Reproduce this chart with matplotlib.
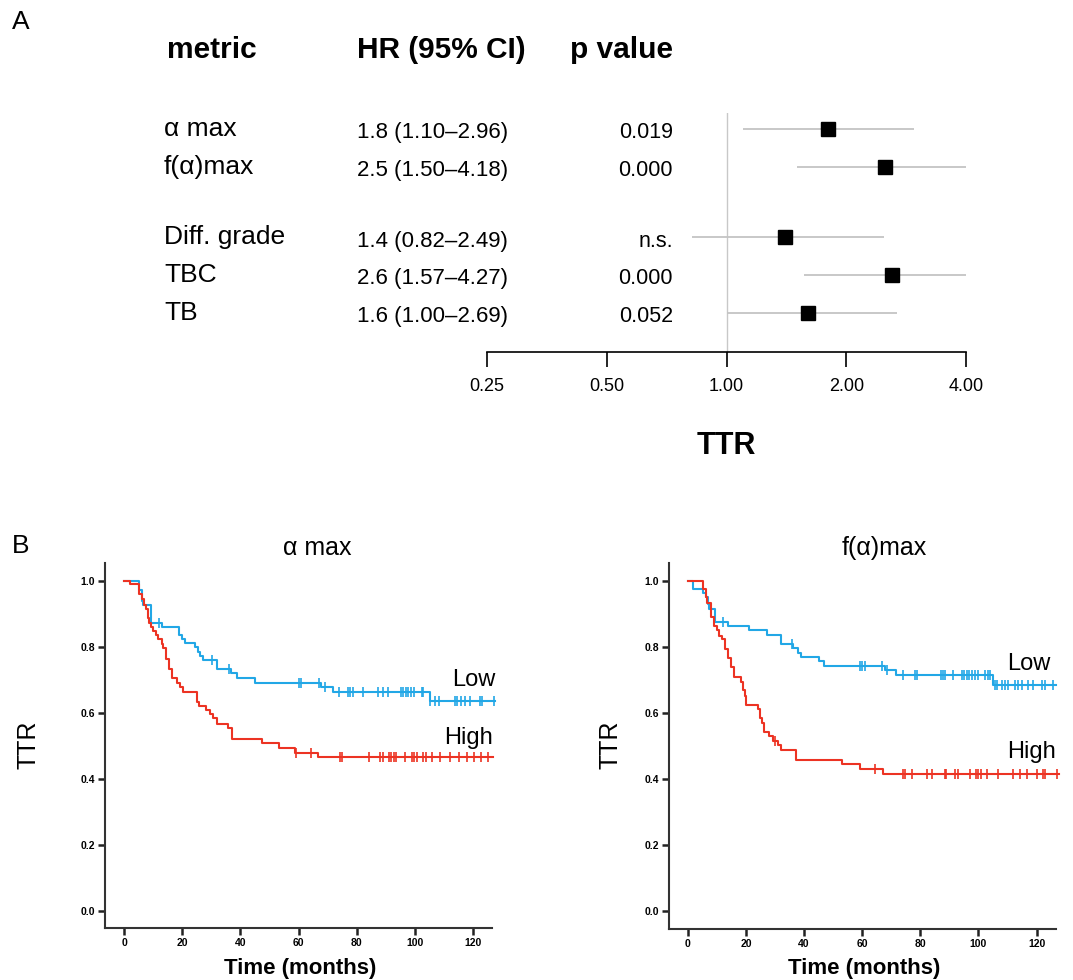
import numpy as np
import matplotlib
matplotlib.use("Agg")
import matplotlib.pyplot as plt
from matplotlib.transforms import blended_transform_factory

plt.rcParams['font.family'] = ['Liberation Sans', 'DejaVu Sans']

# ---- panel A data (forest plot) ----
metrics = ['α max', 'f(α)max', 'Diff. grade', 'TBC', 'TB']
hr = [1.8, 2.5, 1.4, 2.6, 1.6]
ci_lo = [1.10, 1.50, 0.82, 1.57, 1.00]
ci_hi = [2.96, 4.18, 2.49, 4.27, 2.69]
p_vals = ['0.019', '0.000', 'n.s.', '0.000', '0.052']
hr_ticks = [0.25, 0.5, 1.0, 2.0, 4.0]

# ---- panel B data (Kaplan-Meier, TTR) ----
# alpha max, low group
a_low_t = [0, 5.2, 6.0, 6.6, 9.1, 12.9, 19.0, 19.8, 20.9, 24.4, 25.3, 26.1, 27.0,
           31.8, 36.9, 38.7, 45.0, 67.8, 72.0, 105.1]
a_low_s = [1.0, 0.973, 0.94, 0.927, 0.874, 0.861, 0.836, 0.824, 0.811, 0.799, 0.786,
           0.772, 0.76, 0.733, 0.722, 0.707, 0.692, 0.679, 0.663, 0.637]
a_low_cens = [12.1, 30.1, 36.1, 60.2, 60.9, 67.1, 69.1, 74.1, 77.2, 77.8, 78.9, 82.1,
              87.5, 89.0, 90.9, 95.3, 96.1, 96.9, 97.8, 98.6, 99.8, 102.4, 103.0,
              105.3, 107.0, 108.5, 113.7, 114.5, 115.9, 117.4, 119.1, 122.3, 123.1, 127.4]
a_low_end = 127.5
# alpha max, high group
a_high_t = [0, 2.0, 5.2, 6.0, 6.9, 7.5, 8.1, 8.6, 9.4, 10.0, 10.9, 11.7, 12.9, 13.4,
            14.4, 15.5, 16.6, 18.3, 19.2, 20.1, 24.9, 25.8, 28.1, 29.5, 30.7, 31.8,
            35.8, 37.0, 47.3, 53.3, 58.8, 66.8]
a_high_s = [1.0, 0.991, 0.962, 0.944, 0.927, 0.914, 0.887, 0.874, 0.861, 0.849, 0.836,
            0.823, 0.809, 0.796, 0.763, 0.733, 0.706, 0.692, 0.679, 0.664, 0.634, 0.621,
            0.609, 0.597, 0.585, 0.567, 0.555, 0.521, 0.508, 0.492, 0.479, 0.465]
a_high_cens = [59.1, 64.2, 74.3, 75.0, 84.2, 88.1, 89.0, 91.1, 91.8, 92.7, 93.6, 96.6,
               99.0, 99.7, 100.7, 102.8, 103.9, 106.0, 108.8, 112.2, 115.4, 118.0,
               120.3, 122.8, 125.1]
a_high_end = 126.9

# f(alpha) max, low group
f_low_t = [0, 1.8, 5.3, 6.2, 7.0, 7.4, 9.3, 13.9, 21.1, 27.1, 32.2, 36.3, 38.0, 39.0,
           45.2, 46.8, 67.8, 71.8, 105.1]
f_low_s = [1.0, 0.977, 0.965, 0.952, 0.93, 0.914, 0.876, 0.863, 0.851, 0.836, 0.808,
           0.797, 0.782, 0.77, 0.757, 0.744, 0.731, 0.714, 0.686]
f_low_cens = [12.2, 35.7, 59.2, 60.0, 60.9, 66.9, 68.7, 74.1, 78.1, 78.7, 87.0, 87.7,
              88.5, 91.1, 94.2, 95.0, 95.9, 96.8, 97.9, 98.8, 99.9, 102.2, 103.2, 104.0,
              105.7, 106.3, 108.0, 109.1, 110.3, 112.6, 113.7, 114.9, 117.2, 118.9,
              121.8, 122.9, 125.7]
f_low_end = 126.7
# f(alpha) max, high group
f_high_t = [0, 5.3, 6.2, 6.6, 7.8, 8.1, 9.1, 9.9, 10.8, 11.6, 12.7, 13.9, 14.9, 16.0,
            18.3, 19.0, 19.6, 20.0, 24.1, 24.9, 25.5, 26.2, 28.0, 29.2, 31.0, 32.2,
            37.2, 53.2, 59.3, 67.3]
f_high_s = [1.0, 0.975, 0.952, 0.934, 0.914, 0.892, 0.863, 0.851, 0.835, 0.823, 0.794,
            0.767, 0.74, 0.71, 0.695, 0.67, 0.652, 0.625, 0.612, 0.585, 0.57, 0.543,
            0.53, 0.516, 0.503, 0.488, 0.458, 0.444, 0.43, 0.416]
f_high_cens = [30.0, 64.3, 74.1, 74.7, 77.0, 82.4, 83.9, 88.5, 89.0, 91.9, 92.8, 97.1,
               99.1, 99.9, 100.9, 102.8, 106.8, 112.0, 114.3, 116.6, 120.0, 122.3,
               122.9, 126.9]
f_high_end = 127.8

BLUE = '#22a7e6'
RED = '#ec3323'
W, H = 1073, 980

fig = plt.figure(figsize=(W / 100, H / 100), dpi=100)


def add_ax(x0, y0, x1, y1):
    return fig.add_axes([x0 / W, 1 - y1 / H, (x1 - x0) / W, (y1 - y0) / H])


def ptext(x, y, s, **kw):
    fig.text(x / W, 1 - y / H, s, **kw)


# ================= Panel A =================
ptext(12, 22, 'A', fontsize=19, va='center', ha='left')
ptext(167, 50, 'metric', fontsize=21.5, fontweight='bold', va='center')
ptext(357, 50, 'HR (95% CI)', fontsize=21.5, fontweight='bold', va='center')
ptext(570, 50, 'p value', fontsize=21.5, fontweight='bold', va='center')

rows = [0, 1, 2.87, 3.85, 4.87]
axf = add_ax(487, 113, 966, 352)
axf.set_xscale('log', base=2)
axf.set_xlim(0.25, 4)
axf.set_ylim(5.9, -0.423)
axf.axvline(1.0, color='#c8c8c8', lw=1)
axf.hlines(rows, ci_lo, ci_hi, color='#c4c4c4', lw=1.3)
axf.plot(hr, rows, 's', color='black', ms=10)
for s in ['left', 'top', 'right']:
    axf.spines[s].set_visible(False)
axf.spines['bottom'].set_linewidth(1.2)
axf.set_yticks([])
axf.set_xticks(hr_ticks)
axf.set_xticklabels([f'{t:.2f}' for t in hr_ticks], fontsize=13)
axf.xaxis.set_minor_locator(plt.NullLocator())
axf.tick_params(axis='x', direction='out', length=11, width=1.2, pad=8)
axf.set_xlabel('TTR', fontsize=22, fontweight='bold', labelpad=26)

tr = blended_transform_factory(fig.transFigure, axf.transData)
for r, m, h, lo, hi, p in zip(rows, metrics, hr, ci_lo, ci_hi, p_vals):
    axf.text(164 / W, r, m, transform=tr, fontsize=19, va='center', ha='left')
    axf.text(357 / W, r + 0.1, f'{h} ({lo:.2f}–{hi:.2f})', transform=tr,
             fontsize=16, va='center', ha='left')
    axf.text(673 / W, r + 0.1, p, transform=tr, fontsize=15.5, va='center', ha='right')


# ================= Panel B =================
def km(ax, t, s, cens, end, color):
    tt = list(t) + [end]
    ss = list(s) + [s[-1]]
    ax.step(tt, ss, where='post', color=color, lw=1.5, clip_on=False)
    idx = np.searchsorted(t, cens, side='right') - 1
    ax.plot(cens, np.array(s)[idx], '|', color=color, ms=7, mew=1.2, clip_on=False)


def style_km(ax, xlim, ylim):
    ax.set_xlim(*xlim)
    ax.set_ylim(*ylim)
    for sname in ['top', 'right']:
        ax.spines[sname].set_visible(False)
    for sname in ['left', 'bottom']:
        ax.spines[sname].set_linewidth(1.5)
        ax.spines[sname].set_color('#333333')
    ax.set_xticks(range(0, 121, 20))
    ax.set_yticks(np.arange(0, 1.01, 0.2))
    ax.set_yticklabels([f'{v:.1f}' for v in np.arange(0, 1.01, 0.2)])
    ax.tick_params(direction='out', length=5, width=1.8, color='#222222',
                   labelsize=7.5, pad=2)
    for lab in ax.get_xticklabels() + ax.get_yticklabels():
        lab.set_fontweight('bold')


ptext(12, 546, 'B', fontsize=19, va='center', ha='left')

ax1 = add_ax(105, 563, 492, 928)
km(ax1, a_low_t, a_low_s, a_low_cens, a_low_end, BLUE)
km(ax1, a_high_t, a_high_s, a_high_cens, a_high_end, RED)
style_km(ax1, (-6.6, 126.6), (-0.0525, 1.0546))

ax2 = add_ax(669, 563, 1056, 929)
km(ax2, f_low_t, f_low_s, f_low_cens, f_low_end, BLUE)
km(ax2, f_high_t, f_high_s, f_high_cens, f_high_end, RED)
style_km(ax2, (-6.5, 126.7), (-0.055, 1.055))

ptext(317, 548, 'α max', fontsize=18, ha='center', va='center')
ptext(884, 548, 'f(α)max', fontsize=18, ha='center', va='center')
ptext(28, 745, 'TTR', fontsize=18, rotation=90, ha='center', va='center')
ptext(610, 745, 'TTR', fontsize=18, rotation=90, ha='center', va='center')
ptext(300, 968, 'Time (months)', fontsize=16, fontweight='bold', ha='center', va='center')
ptext(864, 968, 'Time (months)', fontsize=16, fontweight='bold', ha='center', va='center')

ptext(495, 680, 'Low', fontsize=17, ha='right', va='center')
ptext(493, 738, 'High', fontsize=17, ha='right', va='center')
ptext(1050, 664, 'Low', fontsize=17, ha='right', va='center')
ptext(1056, 752, 'High', fontsize=17, ha='right', va='center')

fig.savefig('out.png', dpi=100)
